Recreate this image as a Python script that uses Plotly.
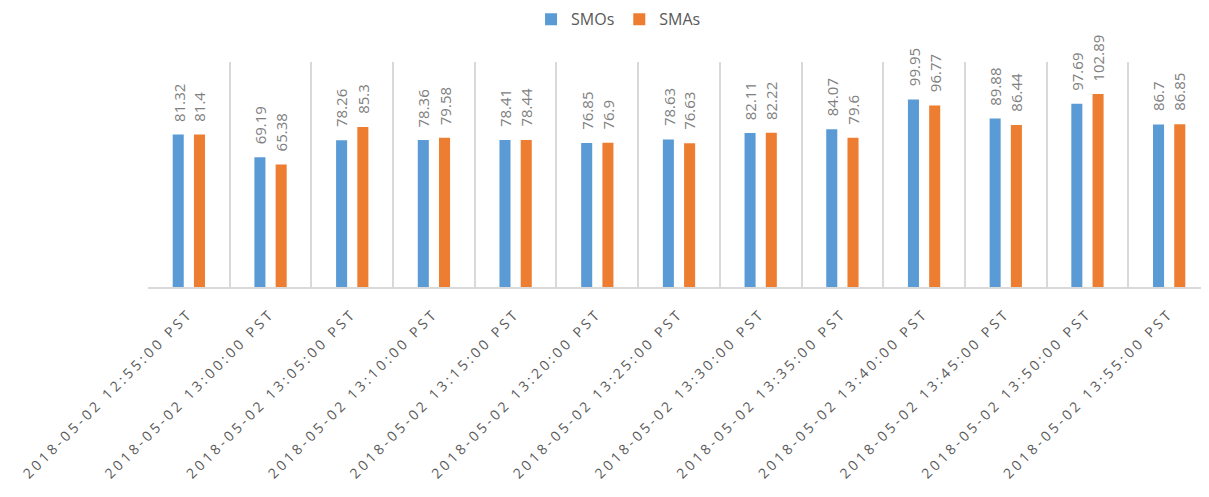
import plotly.graph_objects as go

categories = [
    "2018-05-02 12:55:00 PST", "2018-05-02 13:00:00 PST", "2018-05-02 13:05:00 PST",
    "2018-05-02 13:10:00 PST", "2018-05-02 13:15:00 PST", "2018-05-02 13:20:00 PST",
    "2018-05-02 13:25:00 PST", "2018-05-02 13:30:00 PST", "2018-05-02 13:35:00 PST",
    "2018-05-02 13:40:00 PST", "2018-05-02 13:45:00 PST", "2018-05-02 13:50:00 PST",
    "2018-05-02 13:55:00 PST",
]
smos = [81.32, 69.19, 78.26, 78.36, 78.41, 76.85, 78.63, 82.11, 84.07, 99.95, 89.88, 97.69, 86.7]
smas = [81.4, 65.38, 85.3, 79.58, 78.44, 76.9, 76.63, 82.22, 79.6, 96.77, 86.44, 102.89, 86.85]

FONT = "Open Sans"
LABEL_COLOR = "#808080"
TICK_COLOR = "#595959"

series = [("SMOs", smos, "#5B9BD5", -10.5), ("SMAs", smas, "#ED7D31", 10.5)]

fig = go.Figure()
for name, vals, color, dx in series:
    fig.add_trace(go.Bar(
        name=name, x=categories, y=vals,
        marker=dict(color=color, line=dict(width=0)),
    ))
    for c, v in zip(categories, vals):
        fig.add_annotation(
            x=c, y=v, xref="x", yref="y", text=f"{v:g}", showarrow=False,
            textangle=-90, xanchor="center", yanchor="bottom",
            xshift=dx, yshift=11,
            font=dict(family=FONT, size=15, color=LABEL_COLOR),
        )

ticktext = [f'<span style="letter-spacing:3.2px">{c}</span>' for c in categories]

fig.update_layout(
    width=1209, height=497,
    margin=dict(l=140, r=7, t=54, b=218, autoexpand=False),
    paper_bgcolor="white", plot_bgcolor="white",
    barmode="group", bargap=0.48, bargroupgap=0.48,
    showlegend=True,
    legend=dict(orientation="h", xref="container", x=0.505, xanchor="center",
                yref="paper", y=1.19, yanchor="middle", itemwidth=30,
                font=dict(family=FONT, size=16, color=TICK_COLOR)),
    xaxis=dict(type="category", tickson="boundaries", showgrid=True, gridcolor="#d9d9d9",
               gridwidth=1.5, showline=True, linecolor="#d9d9d9", linewidth=2,
               ticks="", tickangle=-45, automargin=False, ticklabelstandoff=11,
               tickmode="array", tickvals=categories, ticktext=ticktext,
               tickfont=dict(family=FONT, size=14, color=TICK_COLOR)),
    yaxis=dict(range=[0, 120], showgrid=False, showticklabels=False, zeroline=False,
               showline=False, automargin=False),
)

fig.write_html("out.html")
